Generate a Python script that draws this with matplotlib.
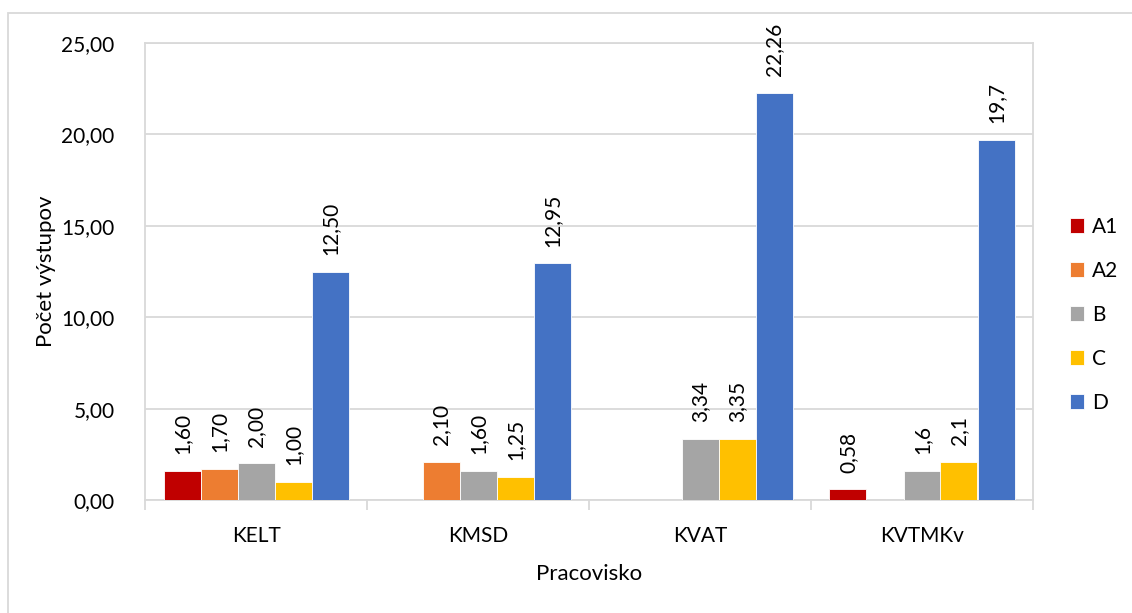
import numpy as np
import matplotlib
matplotlib.use("Agg")
import matplotlib.pyplot as plt
from matplotlib.patches import Rectangle

plt.rcParams["font.family"] = ["Lato", "DejaVu Sans"]

# údaje podľa pracovísk
pracoviska = ["KELT", "KMSD", "KVAT", "KVTMKv"]
nan = np.nan
a1 = [1.60, nan, nan, 0.58]
a2 = [1.70, 2.10, nan, nan]
b = [2.00, 1.60, 3.34, 1.6]
c = [1.00, 1.25, 3.35, 2.1]
d = [12.50, 12.95, 22.26, 19.7]
kategorie = ["A1", "A2", "B", "C", "D"]
farby = ["#C00000", "#ED7D31", "#A5A5A5", "#FFC000", "#4472C4"]
# formát popisov pre každé pracovisko
formaty = ["{:.2f}", "{:.2f}", "{:.2f}", "{:g}"]

grid_col = "#D9D9D9"
fs = 15

fig = plt.figure(figsize=(11.32, 6.13), dpi=100)
ax = fig.add_axes([145/1132, 1-500/613, 888/1132, 457/613])

# rámček grafu
fig.patches.append(Rectangle((8/1132, -0.1), 1.2, 1-13/613+0.1,
                             transform=fig.transFigure, fill=False,
                             edgecolor=grid_col, lw=1.3))

x = np.arange(len(pracoviska))
w = 1/6
for i, (hodnoty, kat, farba) in enumerate(zip([a1, a2, b, c, d], kategorie, farby)):
    pos = x + (i - 2) * w
    ax.bar(pos, hodnoty, width=w, color=farba, edgecolor="white",
           linewidth=0.6, label=kat, zorder=3)
    for px, v, fmt in zip(pos, hodnoty, formaty):
        if np.isnan(v):
            continue
        ax.annotate(fmt.format(v).replace(".", ","), (px, v),
                    xytext=(0, 12), textcoords="offset points",
                    rotation=90, ha="center", va="bottom",
                    fontsize=fs, color="#000000")

ax.set_xlim(-0.5, len(pracoviska) - 0.5)
ax.set_ylim(0, 25)
ax.set_yticks(np.arange(0, 26, 5))
ax.set_yticklabels([f"{t:.2f}".replace(".", ",") for t in np.arange(0, 26, 5)])
ax.grid(axis="y", color=grid_col, lw=1.3, zorder=0)

ax.set_xticks(x)
ax.set_xticklabels(pracoviska)
ax.set_xticks(np.arange(len(pracoviska) + 1) - 0.5, minor=True)
ax.tick_params(axis="x", which="major", length=0, pad=19, labelsize=fs)
ax.tick_params(axis="x", which="minor", length=7, width=1.3, color=grid_col)
ax.tick_params(axis="y", length=0, pad=22, labelsize=fs)

for s in ax.spines.values():
    s.set_color(grid_col)
    s.set_linewidth(1.3)

ax.set_xlabel("Pracovisko", fontsize=16, labelpad=13)
ax.set_ylabel("Počet výstupov", fontsize=16, labelpad=4)

ax.legend(loc="center left", bbox_to_anchor=(1.02, 0.405), frameon=False,
          fontsize=fs, handlelength=0.7, handleheight=0.7,
          handletextpad=0.4, labelspacing=1.15)

fig.savefig("out.png", dpi=100)
